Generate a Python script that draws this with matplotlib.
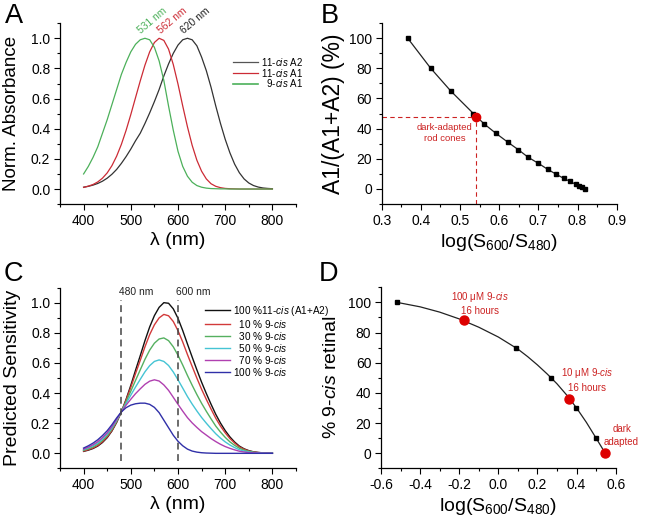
import matplotlib
matplotlib.use("Agg")
import matplotlib.pyplot as plt
from matplotlib.lines import Line2D

plt.rcParams['font.family'] = ['Liberation Sans', 'DejaVu Sans']
plt.rcParams['mathtext.fontset'] = 'custom'
plt.rcParams['mathtext.rm'] = 'Liberation Sans'
plt.rcParams['mathtext.it'] = 'Liberation Sans:italic'
plt.rcParams['axes.unicode_minus'] = False

# ---------------- data ----------------
wl = [400, 410, 420, 430, 440, 450, 460, 470, 480, 490, 500, 510, 520, 530, 540,
      550, 560, 570, 580, 590, 600, 610, 620, 630, 640, 650, 660, 670, 680, 690,
      700, 710, 720, 730, 740, 750, 760, 770, 780, 790, 800]

# Panel A: normalized absorbance templates
abs_A2_620 = [0.012, 0.018, 0.026, 0.037, 0.052, 0.072, 0.098, 0.13, 0.17, 0.215,
              0.265, 0.32, 0.37, 0.435, 0.505, 0.58, 0.66, 0.75, 0.83, 0.90,
              0.955, 0.99, 1.0, 0.99, 0.95, 0.875, 0.785, 0.675, 0.551, 0.435,
              0.33, 0.24, 0.165, 0.108, 0.067, 0.04, 0.023, 0.013, 0.007, 0.004, 0.002]
abs_A1_562 = [0.011, 0.019, 0.030, 0.047, 0.072, 0.107, 0.155, 0.218, 0.296, 0.389,
              0.494, 0.606, 0.717, 0.822, 0.910, 0.972, 1.0, 0.986, 0.928, 0.826,
              0.696, 0.551, 0.413, 0.29, 0.191, 0.118, 0.067, 0.035, 0.018, 0.009,
              0.004, 0.002, 0.001, 0, 0, 0, 0, 0, 0, 0, 0]
abs_9cis_531 = [0.10, 0.15, 0.21, 0.28, 0.37, 0.46, 0.56, 0.66, 0.76, 0.84,
                0.91, 0.96, 0.99, 1.00, 0.99, 0.94, 0.85, 0.72, 0.55, 0.39,
                0.25, 0.15, 0.085, 0.045, 0.023, 0.012, 0.006, 0.003, 0.002, 0.001,
                0.001, 0, 0, 0, 0, 0, 0, 0, 0, 0, 0]
peak_labels = ['531 nm', '562 nm', '620 nm']
peak_label_wl = [524, 566, 616]

# Panel C: predicted sensitivity
sens_0 = [0.013, 0.021, 0.032, 0.048, 0.072, 0.104, 0.148, 0.205, 0.275,
          0.358, 0.451, 0.551, 0.648, 0.748, 0.839, 0.914, 0.969, 1.0,
          0.996, 0.959, 0.896, 0.815, 0.726, 0.639, 0.554, 0.472, 0.397,
          0.326, 0.259, 0.201, 0.151, 0.109, 0.075, 0.048, 0.030, 0.018,
          0.010, 0.006, 0.003, 0.002, 0.001]
sens_10 = [0.015, 0.024, 0.036, 0.052, 0.077, 0.109, 0.152, 0.208, 0.275,
           0.353, 0.438, 0.529, 0.617, 0.707, 0.788, 0.853, 0.899, 0.922,
           0.913, 0.875, 0.814, 0.739, 0.656, 0.577, 0.499, 0.425, 0.358,
           0.294, 0.233, 0.181, 0.136, 0.098, 0.068, 0.043, 0.027, 0.016,
           0.009, 0.005, 0.003, 0.002, 0.001]
sens_30 = [0.020, 0.030, 0.043, 0.061, 0.086, 0.118, 0.161, 0.214, 0.275,
           0.342, 0.412, 0.484, 0.554, 0.624, 0.685, 0.731, 0.759, 0.766,
           0.748, 0.707, 0.651, 0.586, 0.517, 0.452, 0.390, 0.332, 0.279,
           0.229, 0.181, 0.141, 0.106, 0.076, 0.053, 0.034, 0.021, 0.013,
           0.007, 0.004, 0.002, 0.001, 0.001]
sens_50 = [0.024, 0.036, 0.050, 0.069, 0.095, 0.127, 0.169, 0.220, 0.275,
           0.331, 0.386, 0.440, 0.491, 0.541, 0.582, 0.610, 0.620, 0.610,
           0.583, 0.540, 0.488, 0.433, 0.377, 0.327, 0.281, 0.238, 0.200,
           0.164, 0.130, 0.101, 0.076, 0.055, 0.038, 0.024, 0.015, 0.009,
           0.005, 0.003, 0.002, 0.001, 0.001]
sens_70 = [0.028, 0.041, 0.057, 0.077, 0.104, 0.136, 0.177, 0.226, 0.275,
           0.320, 0.359, 0.396, 0.428, 0.458, 0.479, 0.488, 0.480, 0.454,
           0.418, 0.372, 0.325, 0.280, 0.237, 0.202, 0.172, 0.144, 0.121,
           0.098, 0.078, 0.060, 0.045, 0.033, 0.023, 0.014, 0.009, 0.005,
           0.003, 0.002, 0.001, 0.001, 0.0]
sens_100 = [0.035, 0.05, 0.068, 0.09, 0.118, 0.15, 0.19, 0.235, 0.275,
            0.303, 0.32, 0.329, 0.333, 0.333, 0.325, 0.305, 0.27, 0.22,
            0.17, 0.12, 0.08, 0.05, 0.028, 0.015, 0.008, 0.004, 0.002,
            0.001, 0, 0, 0, 0, 0, 0, 0, 0,
            0, 0, 0, 0, 0]
sens_labels = ['100 %11-$\\mathit{cis}$ (A1+A2)', '  10 % 9-$\\mathit{cis}$',
               '  30 % 9-$\\mathit{cis}$', '  50 % 9-$\\mathit{cis}$',
               '  70 % 9-$\\mathit{cis}$', '100 % 9-$\\mathit{cis}$']
ref_wl = [480, 600]
ref_wl_labels = ['480 nm', '600 nm']

# Panel B
b_x = [0.366, 0.425, 0.476, 0.534, 0.562, 0.591, 0.622, 0.649, 0.674, 0.700,
       0.724, 0.744, 0.765, 0.781, 0.796, 0.805, 0.812, 0.820]
b_y = [100, 80, 65, 50, 43, 37, 31, 26, 21, 17, 13, 10, 7, 5, 3, 2, 1, 0]
b_dark_x = [0.540]
b_dark_y = [48]

# Panel D
d_x = [-0.52, 0.089, 0.271, 0.399, 0.501]
d_y = [100, 70, 50, 30, 10]
d_fit_x = [-0.52, -0.4, -0.3, -0.2, -0.1, 0.0, 0.1, 0.15, 0.2, 0.25, 0.3, 0.35,
           0.4, 0.45, 0.5, 0.547]
d_fit_y = [100, 97, 93.5, 89, 83.5, 77, 69, 64, 58.5, 52.5, 46, 38.5,
           30, 20.5, 10, 0]
d_red_x = [-0.176, 0.363, 0.547]
d_red_y = [88, 36, 0]
d_red_labels = ['100 μM 9-$\\mathit{cis}$\n16 hours', '10 μM 9-$\\mathit{cis}$\n16 hours',
                'dark\nadapted']
d_label_x = [-0.095, 0.452, 0.63]
d_label_y = [99.5, 48.8, 11.6]

# ---------------- figure ----------------
W, H = 645, 524
fig = plt.figure(figsize=(W / 100, H / 100), dpi=100)

def box(l, r, t, b):
    return [l / W, 1 - b / H, (r - l) / W, (b - t) / H]

axA = fig.add_axes(box(60, 296, 23.2, 204.1))
axB = fig.add_axes(box(381.7, 616.7, 22.9, 204.1))
axC = fig.add_axes(box(60, 296, 287.6, 468.4))
axD = fig.add_axes(box(381, 615.7, 287.2, 468.4))

RED = '#cc2b35'
GREEN = '#4cb05a'
DRED = '#cc2222'

def style(ax):
    for s in ['top', 'right']:
        ax.spines[s].set_visible(False)
    for s in ['left', 'bottom']:
        ax.spines[s].set_linewidth(0.9)
    ax.tick_params(which='major', direction='out', length=4, width=0.8, labelsize=10, pad=3)
    ax.tick_params(which='minor', direction='out', length=2.3, width=0.8)

LBL = 14

# Panel A
axA.plot(wl, abs_A2_620, color='#333333', lw=0.9)
axA.plot(wl, abs_A1_562, color=RED, lw=0.9)
axA.plot(wl, abs_9cis_531, color=GREEN, lw=0.9)
for lab, x, c in zip(peak_labels, peak_label_wl, [GREEN, RED, '#222222']):
    axA.text(x, 1.02, lab, rotation=40, rotation_mode='anchor', ha='left', va='bottom',
             color=c, fontsize=7.4)
axA.set_xlim(350, 850)
axA.set_ylim(-0.1, 1.1)
axA.set_xticks([400, 500, 600, 700, 800])
axA.set_xticks([350, 450, 550, 650, 750, 850], minor=True)
axA.set_yticks([0.0, 0.2, 0.4, 0.6, 0.8, 1.0])
axA.set_yticklabels(['0.0', '0.2', '0.4', '0.6', '0.8', '1.0'])
axA.set_yticks([-0.1, 0.1, 0.3, 0.5, 0.7, 0.9, 1.1], minor=True)
axA.set_xlabel('λ (nm)', fontsize=LBL, labelpad=3)
axA.set_ylabel('Norm. Absorbance', fontsize=13.5, labelpad=8)
hA = [Line2D([], [], color='#555555', lw=0.9), Line2D([], [], color=RED, lw=0.9),
      Line2D([], [], color=GREEN, lw=1.2)]
axA.legend(hA, ['11-$\\mathit{cis}$ A2', '11-$\\mathit{cis}$ A1', '  9-$\\mathit{cis}$ A1'],
           loc='upper left', bbox_to_anchor=(0.733, 0.82), frameon=False, fontsize=7,
           handlelength=2.6, handletextpad=0.3, labelspacing=-0.12, borderpad=0,
           borderaxespad=0)
style(axA)

# Panel B
axB.plot(b_x, b_y, color='#222222', lw=0.9, marker='s', ms=3.2, mfc='black', mec='black')
axB.hlines(b_dark_y, 0.3, b_dark_x, colors=DRED, linestyles=(0, (4, 3)), lw=0.8)
axB.vlines(b_dark_x, -10, b_dark_y, colors=DRED, linestyles=(0, (4, 3)), lw=0.8)
axB.plot(b_dark_x, b_dark_y, 'o', color='#dd0000', ms=6, zorder=5)
axB.text(0.46, 37, 'dark-adapted\nrod cones', color=DRED, fontsize=6.8, ha='center',
         va='center', linespacing=1.3)
axB.set_xlim(0.3, 0.9)
axB.set_ylim(-10, 110)
axB.set_xticks([0.3, 0.4, 0.5, 0.6, 0.7, 0.8, 0.9])
axB.set_xticklabels(['0.3', '0.4', '0.5', '0.6', '0.7', '0.8', '0.9'])
axB.set_xticks([0.35, 0.45, 0.55, 0.65, 0.75, 0.85], minor=True)
axB.set_yticks([0, 20, 40, 60, 80, 100])
axB.set_yticks([-10, 10, 30, 50, 70, 90, 110], minor=True)
axB.set_xlabel('log(S$_{600}$/S$_{480}$)', fontsize=LBL, labelpad=3)
axB.set_ylabel('A1/(A1+A2) (%)', fontsize=16.5, labelpad=3)
style(axB)

# Panel C
cols = ['#111111', '#d23a3a', '#55b060', '#45c4d4', '#b040b0', '#3030a8']
series = [sens_0, sens_10, sens_30, sens_50, sens_70, sens_100]
hC = []
for s, c in zip(series, cols):
    ln, = axC.plot(wl, s, color=c, lw=1.0)
    hC.append(ln)
axC.vlines(ref_wl, -0.05, 1.02, colors='#444444', linestyles=(0, (4.5, 3)), lw=1.1)
for x, lab in zip(ref_wl, ref_wl_labels):
    axC.text(x - 4, 1.035, lab, fontsize=7.4, ha='left', va='bottom', color='#222222')
axC.set_xlim(350, 850)
axC.set_ylim(-0.1, 1.1)
axC.set_xticks([400, 500, 600, 700, 800])
axC.set_xticks([350, 450, 550, 650, 750, 850], minor=True)
axC.set_yticks([0.0, 0.2, 0.4, 0.6, 0.8, 1.0])
axC.set_yticklabels(['0.0', '0.2', '0.4', '0.6', '0.8', '1.0'])
axC.set_yticks([-0.1, 0.1, 0.3, 0.5, 0.7, 0.9, 1.1], minor=True)
axC.set_xlabel('λ (nm)', fontsize=LBL, labelpad=3)
axC.set_ylabel('Predicted Sensitivity', fontsize=LBL, labelpad=7)
axC.legend(hC, sens_labels, loc='upper left', bbox_to_anchor=(0.614, 0.91),
           frameon=False, fontsize=7.2, handlelength=2.5, handletextpad=0.3,
           labelspacing=0.0, borderpad=0, borderaxespad=0)
style(axC)

# Panel D
axD.plot(d_fit_x, d_fit_y, color='#222222', lw=0.9)
axD.plot(d_x, d_y, 's', color='black', ms=3.5)
axD.plot(d_red_x, d_red_y, 'o', color='#dd0000', ms=6.5, zorder=5)
for x, y, lab in zip(d_label_x, d_label_y, d_red_labels):
    axD.text(x, y, lab, color=DRED, fontsize=7, ha='center', va='center', linespacing=1.35)
axD.set_xlim(-0.6, 0.6)
axD.set_ylim(-10, 110)
axD.set_xticks([-0.6, -0.4, -0.2, 0.0, 0.2, 0.4, 0.6])
axD.set_xticklabels(['-0.6', '-0.4', '-0.2', '0.0', '0.2', '0.4', '0.6'])
axD.set_xticks([-0.5, -0.3, -0.1, 0.1, 0.3, 0.5], minor=True)
axD.set_yticks([0, 20, 40, 60, 80, 100])
axD.set_yticks([-10, 10, 30, 50, 70, 90, 110], minor=True)
axD.set_xlabel('log(S$_{600}$/S$_{480}$)', fontsize=LBL, labelpad=3)
axD.set_ylabel('% 9-$\\mathit{cis}$ retinal', fontsize=LBL, labelpad=6)
style(axD)

# panel letters
for lab, x, y in [('A', 5, 3), ('B', 321, 3), ('C', 4, 261), ('D', 319, 261)]:
    fig.text(x / W, 1 - y / H, lab, fontsize=19.5, ha='left', va='top')

fig.savefig('out.png', dpi=100)
